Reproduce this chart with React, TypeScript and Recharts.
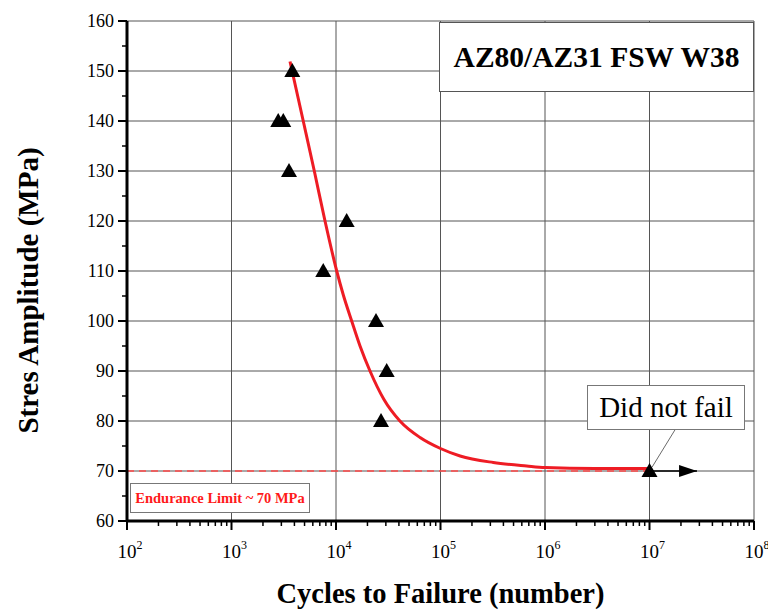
import { ComposedChart, Line, Scatter, XAxis, YAxis, CartesianGrid, ReferenceLine } from 'recharts';

// axis ticks
const decades = [1e2, 1e3, 1e4, 1e5, 1e6, 1e7, 1e8];
const decadeExponents = [2, 3, 4, 5, 6, 7, 8];
const minorSteps = [2, 3, 4, 5, 6, 7, 8, 9];
const stressTicks = [60, 65, 70, 75, 80, 85, 90, 95, 100, 105, 110, 115, 120, 125, 130, 135, 140, 145, 150, 155, 160];
const stressLabels = [60, 70, 80, 90, 100, 110, 120, 130, 140, 150, 160];

// measured specimens (last one is the run-out at 10^7)
const testCycles = [2800, 3130, 3550, 3820, 7550, 12650, 24150, 26970, 30550, 1e7];
const testStress = [140, 140, 130, 150, 110, 120, 100, 80, 90, 70];

// fitted S-N curve
const fitCycles = [3630, 4860, 6200, 7850, 10160, 11750, 14130, 16980, 21150, 28770, 40900, 63700, 100000, 154000, 320000, 668000, 1000000, 3000000, 1e7];
const fitStress = [151.9, 140, 130, 120, 110, 105.2, 100, 95, 90, 84.3, 80, 76.7, 74.5, 73.0, 71.7, 71.0, 70.7, 70.5, 70.5];

// run-out arrow
const runoutCycles = [1e7, 2.85e7];
const runoutStress = [70, 70];

const enduranceLimit = 70;

const xTicks = [
  ...decades,
  ...decades.slice(0, -1).flatMap((d) => minorSteps.map((m) => m * d)),
].sort((a, b) => a - b);

const testData = testCycles.map((n, i) => ({ n, s: testStress[i] }));
const fitData = fitCycles.map((n, i) => ({ n, s: fitStress[i] }));
const runoutData = runoutCycles.map((n, i) => ({ n, s: runoutStress[i] }));

const serif = "'Liberation Serif', 'Times New Roman', serif";

const XTick = (props: any) => {
  const { x, y, payload } = props;
  const idx = decades.indexOf(payload.value);
  if (idx < 0) {
    return <line x1={x} x2={x} y1={y} y2={y + 5} stroke="#000" strokeWidth={1.5} />;
  }
  return (
    <g>
      <line x1={x} x2={x} y1={y} y2={y + 9} stroke="#000" strokeWidth={2} />
      <text x={x + 3} y={y + 37} textAnchor="middle" style={{ fontFamily: serif }} fontSize={19} fill="#000">
        10
        <tspan dy={-9} fontSize={12}>{decadeExponents[idx]}</tspan>
      </text>
    </g>
  );
};

const YTick = (props: any) => {
  const { x, y, payload } = props;
  const major = stressLabels.includes(payload.value);
  if (!major) {
    return <line x1={x - 5} x2={x} y1={y} y2={y} stroke="#000" strokeWidth={1.5} />;
  }
  return (
    <g>
      <line x1={x - 9} x2={x} y1={y} y2={y} stroke="#000" strokeWidth={2} />
      <text x={x - 13} y={y + 6} textAnchor="end" style={{ fontFamily: serif }} fontSize={18} fill="#000">
        {payload.value}
      </text>
    </g>
  );
};

const Triangle = (props: any) => {
  const { cx, cy } = props;
  return <polygon points={`${cx},${cy - 8} ${cx - 8},${cy + 6} ${cx + 8},${cy + 6}`} fill="#000" />;
};

const ArrowHead = (props: any) => {
  const { cx, cy, index } = props;
  if (index !== runoutData.length - 1) return <g key={index} />;
  return <polygon key={index} points={`${cx},${cy} ${cx - 18},${cy - 6} ${cx - 18},${cy + 6}`} fill="#000" />;
};

export default function App() {
  return (
    <div style={{ position: 'absolute', left: 0, top: 0, width: 768, height: 612, background: '#fff' }}>
      <ComposedChart width={768} height={612} margin={{ top: 21, right: 14, bottom: 0, left: 30 }}>
        <CartesianGrid
          horizontalValues={stressLabels}
          verticalValues={decades}
          stroke="#555"
          strokeWidth={1}
        />
        <XAxis
          dataKey="n"
          type="number"
          scale="log"
          domain={[1e2, 1e8]}
          ticks={xTicks}
          interval={0}
          allowDataOverflow
          height={91}
          tickSize={0}
          tickMargin={0}
          tick={<XTick />}
          axisLine={{ stroke: '#000', strokeWidth: 3 }}
        />
        <YAxis
          dataKey="s"
          type="number"
          domain={[60, 160]}
          ticks={stressTicks}
          interval={0}
          allowDataOverflow
          width={97}
          tickSize={0}
          tickMargin={0}
          tick={<YTick />}
          axisLine={{ stroke: '#000', strokeWidth: 3 }}
        />
        <ReferenceLine
          segment={[{ x: 1e2, y: enduranceLimit }, { x: 1e7, y: enduranceLimit }]}
          stroke="#ff4a4a"
          strokeWidth={1.5}
          strokeDasharray="7 5"
        />
        <ReferenceLine
          segment={[{ x: 1.06e7, y: 70.8 }, { x: 1.75e7, y: 78.2 }]}
          stroke="#444"
          strokeWidth={0.8}
        />
        <Line
          data={fitData}
          dataKey="s"
          type="monotone"
          stroke="#ee1c24"
          strokeWidth={3}
          dot={false}
          isAnimationActive={false}
        />
        <Line
          data={runoutData}
          dataKey="s"
          stroke="#000"
          strokeWidth={1.5}
          dot={<ArrowHead />}
          isAnimationActive={false}
        />
        <Scatter data={testData} dataKey="s" shape={<Triangle />} isAnimationActive={false} />
      </ComposedChart>

      <div
        style={{
          position: 'absolute', left: 439, top: 22, width: 315, height: 70, boxSizing: 'border-box',
          border: '1px solid #555', background: '#fff', display: 'flex', alignItems: 'center',
          justifyContent: 'center', fontFamily: serif, fontWeight: 'bold', fontSize: 29.5,
        }}
      >
        AZ80/AZ31 FSW W38
      </div>

      <div
        style={{
          position: 'absolute', left: 587, top: 385, width: 158, height: 45, boxSizing: 'border-box',
          border: '1px solid #777', background: '#fff', display: 'flex', alignItems: 'center',
          justifyContent: 'center', fontFamily: serif, fontSize: 29,
        }}
      >
        Did not fail
      </div>

      <div
        style={{
          position: 'absolute', left: 130, top: 483, width: 180, height: 30, boxSizing: 'border-box',
          border: '1px solid #777', background: '#fff', display: 'flex', alignItems: 'center',
          justifyContent: 'center', fontFamily: serif, fontWeight: 'bold', fontSize: 14.5, color: '#ff1a1a',
        }}
      >
        Endurance Limit ~ 70 MPa
      </div>

      <div
        style={{
          position: 'absolute', left: 28, top: 290, width: 0, height: 0, display: 'flex',
          alignItems: 'center', justifyContent: 'center',
        }}
      >
        <div
          style={{
            transform: 'rotate(-90deg)', whiteSpace: 'nowrap', fontFamily: serif,
            fontWeight: 'bold', fontSize: 29,
          }}
        >
          Stres Amplitude (MPa)
        </div>
      </div>

      <div
        style={{
          position: 'absolute', left: 127, top: 578, width: 627, textAlign: 'center',
          fontFamily: serif, fontWeight: 'bold', fontSize: 28.5,
        }}
      >
        Cycles to Failure (number)
      </div>
    </div>
  );
}
